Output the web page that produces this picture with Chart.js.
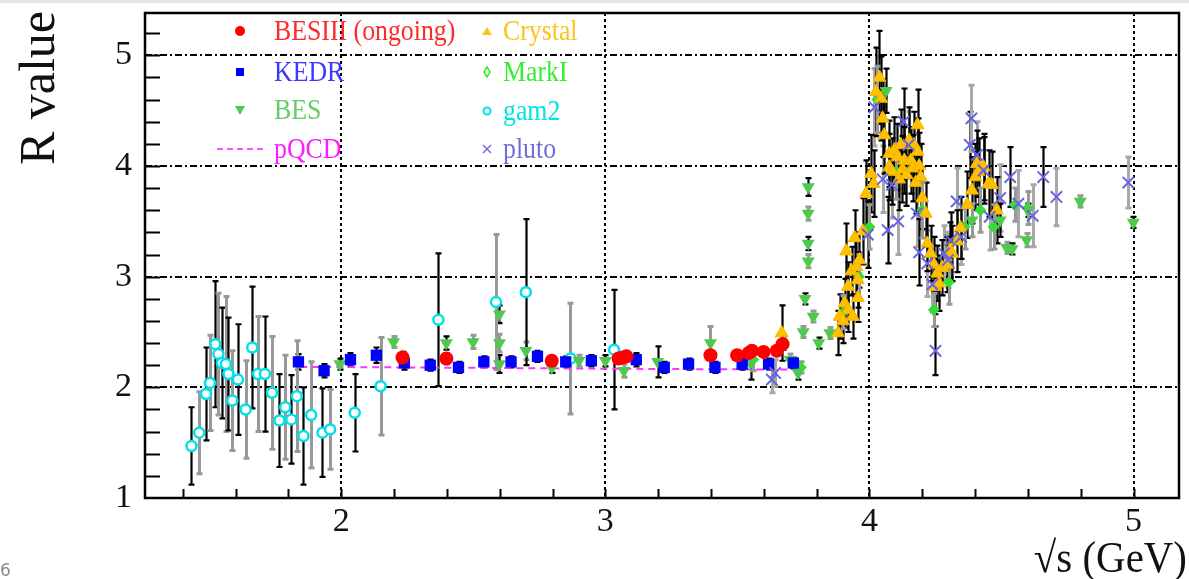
<!DOCTYPE html>
<html>
<head>
<meta charset="utf-8">
<title>R value vs sqrt(s)</title>
<script src="https://cdn.jsdelivr.net/npm/chart.js@4.4.0/dist/chart.umd.min.js"></script>
<style>
  html, body { margin: 0; padding: 0; background: #fff; }
  #wrap { width: 1189px; height: 579px; position: relative; }
</style>
</head>
<body>
<div id="wrap"><canvas id="rChart" width="1189" height="579"></canvas></div>
<script>
// axis ticks
const xTicks = [2, 3, 4, 5];
const yTicks = [1, 2, 3, 4, 5];

// gam2 (open cyan)
const gam2X = [1.433, 1.462, 1.488, 1.503, 1.523, 1.535, 1.548, 1.563, 1.573, 1.588, 1.609, 1.638, 1.663, 1.685, 1.711, 1.738,
  1.766, 1.788, 1.811, 1.832, 1.857, 1.886, 1.929, 1.958, 2.051, 2.149, 2.368, 2.586, 2.699, 2.868, 3.033];
const gam2Y = [1.47, 1.59, 1.94, 2.04, 2.39, 2.30, 2.22, 2.21, 2.12, 1.88, 2.07, 1.80, 2.36, 2.12, 2.12, 1.95,
  1.70, 1.82, 1.71, 1.92, 1.56, 1.75, 1.59, 1.62, 1.77, 2.01, 2.61, 2.77, 2.86, 2.26, 2.34];
const gam2Err = [0.35, 0.37, 0.42, 0.43, 0.57, 0.55, 0.50, 0.61, 0.51, 0.45, 0.50, 0.44, 0.55, 0.52, 0.52, 0.51,
  0.42, 0.47, 0.40, 0.50, 0.44, 0.48, 0.40, 0.36, 0.35, 0.44, 0.60, 0.61, 0.66, 0.50, 0.54];

// KEDR
const kedrX = [1.838, 1.935, 2.035, 2.133, 2.239, 2.337, 2.444, 2.540, 2.643, 2.743, 2.850, 2.947, 3.117, 3.223, 3.315, 3.415, 3.518, 3.618, 3.712];
const kedrY = [2.23, 2.15, 2.25, 2.29, 2.22, 2.20, 2.18, 2.23, 2.23, 2.28, 2.23, 2.24, 2.25, 2.18, 2.21, 2.18, 2.21, 2.21, 2.22];
const kedrErr = [0.07, 0.06, 0.06, 0.07, 0.06, 0.05, 0.05, 0.05, 0.05, 0.05, 0.05, 0.05, 0.06, 0.05, 0.05, 0.05, 0.05, 0.05, 0.05];

// BESIII (ongoing)
const besiiiX = [2.232, 2.398, 2.797, 3.050, 3.065, 3.080, 3.398, 3.499, 3.543, 3.555, 3.599, 3.649, 3.671];
const besiiiY = [2.27, 2.26, 2.24, 2.26, 2.27, 2.28, 2.29, 2.29, 2.31, 2.33, 2.32, 2.33, 2.39];
const besiiiErr = [0.05, 0.05, 0.04, 0.04, 0.04, 0.04, 0.04, 0.04, 0.04, 0.04, 0.04, 0.04, 0.05];

// BES
const besX = [1.995, 2.198, 2.398, 2.499, 2.599, 2.599, 2.599, 2.699, 2.797, 2.900, 3.000, 3.070, 3.198, 3.398, 3.550,
  3.699, 3.730, 3.749, 3.756, 3.768, 3.768, 3.768, 3.768, 3.787, 3.808, 3.850, 4.063, 4.388, 4.495, 4.520, 4.540,
  4.595, 4.600, 4.798, 4.999];
const besY = [2.21, 2.41, 2.40, 2.41, 2.66, 2.40, 2.21, 2.33, 2.18, 2.24, 2.24, 2.15, 2.23, 2.40, 2.22,
  2.25, 2.13, 2.50, 2.80, 3.14, 3.30, 3.57, 3.81, 2.64, 2.40, 2.49, 4.68, 3.51, 3.51, 3.26, 3.25,
  3.33, 3.60, 3.68, 3.49];
const besErr = [0.05, 0.05, 0.06, 0.06, 0.08, 0.08, 0.08, 0.08, 0.05, 0.05, 0.05, 0.06, 0.14, 0.15, 0.15,
  0.05, 0.06, 0.05, 0.05, 0.06, 0.06, 0.06, 0.08, 0.05, 0.05, 0.05, 0.2, 0.15, 0.15, 0.05, 0.05,
  0.06, 0.06, 0.05, 0.05];

// Crystal (Ball)
const crystalX = [3.668, 3.881, 3.887, 3.900, 3.906, 3.912, 3.919, 3.919, 3.932, 3.937, 3.944, 3.950, 3.956, 3.956, 3.962,
  3.975, 3.987, 4.006, 4.016, 4.025, 4.038, 4.044, 4.050, 4.056, 4.075, 4.075, 4.085, 4.094, 4.106, 4.112, 4.119,
  4.125, 4.132, 4.140, 4.150, 4.157, 4.163, 4.169, 4.175, 4.182, 4.182, 4.188, 4.194, 4.200, 4.213, 4.219, 4.232,
  4.244, 4.250, 4.257, 4.263, 4.276, 4.294, 4.305, 4.313, 4.332, 4.345, 4.370, 4.388, 4.401, 4.407, 4.413, 4.432,
  4.451, 4.463, 4.482];
const crystalY = [2.49, 2.49, 2.64, 2.60, 2.76, 3.23, 2.70, 2.91, 3.05, 2.64, 3.35, 3.09, 2.81, 2.97, 3.15,
  3.41, 3.75, 3.93, 3.84, 4.67, 4.80, 4.61, 4.43, 4.28, 3.99, 4.11, 3.95, 4.14, 4.08, 3.88, 4.19,
  3.97, 4.05, 3.92, 4.23, 4.05, 3.98, 4.19, 3.85, 4.37, 4.13, 4.00, 3.90, 3.71, 3.57, 3.30, 3.21,
  3.11, 2.91, 3.03, 2.94, 3.08, 3.11, 3.24, 3.21, 3.32, 3.44, 3.65, 3.78, 3.90, 4.02, 3.95, 3.99,
  3.84, 3.83, 3.60];
const crystalErr = [0.25, 0.2, 0.2, 0.2, 0.22, 0.25, 0.2, 0.22, 0.22, 0.2, 0.25, 0.25, 0.22, 0.25, 0.25,
  0.3, 0.3, 0.35, 0.3, 0.4, 0.42, 0.38, 0.35, 0.35, 0.3, 0.3, 0.3, 0.3, 0.3, 0.28, 0.32,
  0.3, 0.3, 0.28, 0.3, 0.3, 0.3, 0.3, 0.28, 0.32, 0.3, 0.3, 0.3, 0.28, 0.28, 0.25, 0.25,
  0.25, 0.25, 0.25, 0.25, 0.25, 0.25, 0.25, 0.25, 0.28, 0.28, 0.3, 0.3, 0.3, 0.3, 0.3, 0.3,
  0.3, 0.3, 0.3];

// MarkI
const markiX = [3.560, 3.740, 3.900, 3.960, 4.000, 4.030, 4.100, 4.200, 4.244, 4.300, 4.360, 4.420, 4.470, 4.550, 4.600];
const markiY = [2.25, 2.18, 2.68, 3.00, 3.45, 4.60, 3.95, 3.60, 2.70, 2.95, 3.45, 3.60, 3.45, 3.65, 3.62];
const markiErr = [0.1, 0.05, 0.15, 0.2, 0.2, 0.3, 0.25, 0.25, 0.15, 0.2, 0.2, 0.2, 0.2, 0.15, 0.15];

// pluto
const plutoX = [3.630, 3.643, 3.994, 4.019, 4.050, 4.069, 4.085, 4.109, 4.129, 4.148, 4.179, 4.188, 4.219, 4.238, 4.250, 4.282,
  4.297, 4.307, 4.330, 4.347, 4.380, 4.386, 4.407, 4.432, 4.455, 4.495, 4.533, 4.564, 4.618, 4.658, 4.708, 4.980];
const plutoY = [2.07, 2.13, 3.38, 4.53, 3.88, 3.42, 3.83, 3.50, 4.40, 4.19, 3.57, 3.22, 3.12, 2.93, 2.33, 3.21,
  3.15, 3.33, 3.68, 3.36, 4.19, 4.43, 4.10, 3.96, 3.54, 3.71, 3.90, 3.66, 3.55, 3.90, 3.72, 3.85];
const plutoErr = [0.12, 0.12, 0.3, 0.35, 0.3, 0.3, 0.3, 0.3, 0.3, 0.3, 0.3, 0.3, 0.3, 0.25, 0.22, 0.25,
  0.25, 0.25, 0.3, 0.25, 0.3, 0.3, 0.3, 0.3, 0.3, 0.3, 0.27, 0.3, 0.28, 0.27, 0.26, 0.23];

// pQCD
const pqcdX = [1.845, 2.5, 3.0, 3.724];
const pqcdY = [2.185, 2.176, 2.168, 2.16];

const pts = (xs, ys) => xs.map((x, i) => ({ x: x, y: ys[i] }));

const SERIF = "'Liberation Serif', 'Times New Roman', serif";

// vertical error bars, drawn under the markers
const errorBars = {
  id: 'errorBars',
  beforeDatasetsDraw(chart) {
    const ctx = chart.ctx;
    const sx = chart.scales.x, sy = chart.scales.y;
    const a = chart.chartArea;
    ctx.save();
    ctx.beginPath();
    ctx.rect(a.left, a.top, a.right - a.left, a.bottom - a.top);
    ctx.clip();
    chart.data.datasets.forEach(ds => {
      if (!ds.errors) return;
      ds.data.forEach((p, i) => {
        const e = ds.errors[i];
        const col = ds.errorColors[i % ds.errorColors.length];
        const px = Math.round(sx.getPixelForValue(p.x)) + 0.5;
        const top = sy.getPixelForValue(p.y + e);
        const bot = sy.getPixelForValue(p.y - e);
        ctx.strokeStyle = col;
        ctx.lineWidth = col === '#000' ? 2.2 : 3;
        ctx.beginPath();
        ctx.moveTo(px, top);
        ctx.lineTo(px, bot);
        ctx.moveTo(px - 3, top);
        ctx.lineTo(px + 3, top);
        ctx.moveTo(px - 3, bot);
        ctx.lineTo(px + 3, bot);
        ctx.stroke();
      });
    });
    ctx.restore();
  }
};

function drawMarker(ctx, kind, x, y, color) {
  ctx.save();
  ctx.fillStyle = color;
  ctx.strokeStyle = color;
  ctx.lineWidth = 2;
  ctx.beginPath();
  if (kind === 'circle') {
    ctx.arc(x, y, 5, 0, Math.PI * 2);
    ctx.fill();
  } else if (kind === 'square') {
    ctx.fillRect(x - 4, y - 4, 8, 8);
  } else if (kind === 'down') {
    ctx.moveTo(x - 5, y - 4); ctx.lineTo(x + 5, y - 4); ctx.lineTo(x, y + 5); ctx.closePath();
    ctx.fill();
  } else if (kind === 'up') {
    ctx.moveTo(x - 5, y + 4); ctx.lineTo(x + 5, y + 4); ctx.lineTo(x, y - 4); ctx.closePath();
    ctx.fill();
  } else if (kind === 'diamond') {
    ctx.lineWidth = 1.5;
    ctx.moveTo(x, y - 5); ctx.lineTo(x + 3, y); ctx.lineTo(x, y + 5); ctx.lineTo(x - 3, y); ctx.closePath();
    ctx.stroke();
  } else if (kind === 'open') {
    ctx.lineWidth = 2;
    ctx.arc(x, y, 3.5, 0, Math.PI * 2);
    ctx.stroke();
  } else if (kind === 'cross') {
    ctx.lineWidth = 1.5;
    ctx.moveTo(x - 4, y - 4); ctx.lineTo(x + 4, y + 4);
    ctx.moveTo(x + 4, y - 4); ctx.lineTo(x - 4, y + 4);
    ctx.stroke();
  } else if (kind === 'dash') {
    ctx.setLineDash([6, 4]);
    ctx.lineWidth = 1.5;
    ctx.moveTo(x - 23, y); ctx.lineTo(x + 25, y);
    ctx.stroke();
  }
  ctx.restore();
}

// frame, inner ticks, legend and titles
const decorations = {
  id: 'decorations',
  afterDraw(chart) {
    const ctx = chart.ctx;
    const sx = chart.scales.x, sy = chart.scales.y;
    const a = chart.chartArea;
    ctx.save();

    // faint page edge at the very top
    ctx.fillStyle = '#e4e4e4';
    ctx.fillRect(0, 0, 1189, 3);

    // minor / major ticks inside the frame
    ctx.strokeStyle = '#000';
    ctx.lineWidth = 2;
    ctx.beginPath();
    for (let v = 1.2; v < 5.39; v += 0.2) {
      const py = Math.round(sy.getPixelForValue(v)) + 0.5;
      ctx.moveTo(a.left, py);
      ctx.lineTo(a.left + 15, py);
    }
    for (let v = 1.4; v < 5.17; v += 0.2) {
      const px = Math.round(sx.getPixelForValue(v)) + 0.5;
      ctx.moveTo(px, a.bottom);
      ctx.lineTo(px, a.bottom - 9);
    }
    ctx.stroke();

    // frame
    ctx.lineWidth = 2.5;
    ctx.strokeRect(a.left, a.top, a.right - a.left, a.bottom - a.top);

    // legend
    chart.data.datasets.forEach(ds => {
      const L = ds.legend;
      if (!L) return;
      drawMarker(ctx, L.marker, L.mx, L.y, ds.legendMarkerColor || L.color);
      ctx.save();
      ctx.font = '30px ' + SERIF;
      ctx.fillStyle = L.color;
      ctx.textBaseline = 'alphabetic';
      ctx.translate(L.tx, L.y + 9);
      ctx.scale(0.86, 1);
      ctx.fillText(ds.label, 0, 0);
      ctx.restore();
    });

    // y title
    ctx.save();
    ctx.fillStyle = '#111';
    ctx.font = '50px ' + SERIF;
    ctx.textAlign = 'center';
    ctx.translate(54, 88);
    ctx.rotate(-Math.PI / 2);
    ctx.fillText('R value', 0, 0);
    ctx.restore();

    // x title
    ctx.save();
    ctx.fillStyle = '#111';
    ctx.font = '44px ' + SERIF;
    ctx.textAlign = 'right';
    ctx.translate(1187, 572);
    ctx.scale(0.93, 1);
    ctx.fillText('\u221As (GeV)', 0, 0);
    ctx.restore();

    // page number fragment
    ctx.fillStyle = '#8a8a8a';
    ctx.font = '17px ' + "'DejaVu Sans', sans-serif";
    ctx.fillText('6', 0, 576);

    ctx.restore();
  }
};

const datasets = [
  {
    label: 'BESIII (ongoing)', data: pts(besiiiX, besiiiY), errors: besiiiErr, errorColors: ['#000'],
    pointStyle: 'circle', pointRadius: 7, backgroundColor: '#ff0000', borderColor: '#ff0000', borderWidth: 0,
    legend: { marker: 'circle', mx: 240, tx: 274, y: 31, color: '#ff2a2a' }, legendMarkerColor: '#ff0000'
  },
  {
    label: 'pluto', data: pts(plutoX, plutoY), errors: plutoErr, errorColors: ['#a8a8a8', '#a8a8a8', '#000'],
    pointStyle: 'crossRot', pointRadius: 8, borderColor: '#6666e0', borderWidth: 2,
    legend: { marker: 'cross', mx: 487, tx: 503, y: 149, color: '#6f6fd8' }
  },
  {
    label: 'Crystal', data: pts(crystalX, crystalY), errors: crystalErr, errorColors: ['#000'],
    pointStyle: 'triangle', pointRadius: 7.5, backgroundColor: '#ffc000', borderColor: '#f2b600', borderWidth: 1,
    legend: { marker: 'up', mx: 487, tx: 503, y: 31, color: '#ffc21a' }
  },
  {
    label: 'KEDR', data: pts(kedrX, kedrY), errors: kedrErr, errorColors: ['#000'],
    pointStyle: 'rect', pointRadius: 8, backgroundColor: '#0000ff', borderColor: '#0000ff', borderWidth: 0,
    legend: { marker: 'square', mx: 240, tx: 274, y: 72, color: '#3a3aff' }, legendMarkerColor: '#0000ff'
  },
  {
    label: 'BES', data: pts(besX, besY), errors: besErr, errorColors: ['#000', '#999'],
    pointStyle: 'triangle', rotation: 180, pointRadius: 7.5, backgroundColor: '#4fc84f', borderColor: '#4fc84f', borderWidth: 0,
    legend: { marker: 'down', mx: 240, tx: 274, y: 110, color: '#66cc66' }, legendMarkerColor: '#4fc84f'
  },
  {
    label: 'MarkI', data: pts(markiX, markiY), errors: markiErr, errorColors: ['#999'],
    pointStyle: 'rectRot', pointRadius: 5.5, backgroundColor: '#33dd33', borderColor: '#33dd33', borderWidth: 1,
    legend: { marker: 'diamond', mx: 487, tx: 503, y: 72, color: '#33ee33' }
  },
  {
    label: 'gam2', data: pts(gam2X, gam2Y), errors: gam2Err, errorColors: ['#000', '#999'],
    pointStyle: 'circle', pointRadius: 5, backgroundColor: '#ffffff', borderColor: '#00e0e8', borderWidth: 2.5,
    legend: { marker: 'open', mx: 487, tx: 503, y: 111, color: '#00e4e4' }
  },
  {
    label: 'pQCD', type: 'line', data: pts(pqcdX, pqcdY), showLine: true, borderColor: '#ff33ff', borderWidth: 2,
    borderDash: [7, 5], pointRadius: 0, fill: false, tension: 0,
    legend: { marker: 'dash', mx: 240, tx: 274, y: 149, color: '#ff1aff' }
  }
];

const config = {
  type: 'scatter',
  data: { datasets: datasets },
  options: {
    responsive: false,
    animation: false,
    devicePixelRatio: 1,
    layout: { padding: { top: 13, right: -1, left: 0, bottom: 0 } },
    plugins: { legend: { display: false }, tooltip: { enabled: false } },
    scales: {
      x: {
        type: 'linear', min: 1.257, max: 5.172,
        afterFit: s => { s.height = 81; s.paddingLeft = 0; s.paddingRight = 0; },
        afterBuildTicks: s => { s.ticks = xTicks.map(v => ({ value: v })); },
        ticks: { color: '#111', font: { family: SERIF, size: 34 }, padding: 4, maxRotation: 0 },
        grid: { color: '#000', lineWidth: 2, drawTicks: false },
        border: { display: false, dash: [3, 3] }
      },
      y: {
        type: 'linear', min: 1, max: 5.382,
        afterFit: s => { s.width = 145; s.paddingTop = 0; s.paddingBottom = 0; },
        afterBuildTicks: s => { s.ticks = yTicks.map(v => ({ value: v })); },
        ticks: { color: '#111', font: { family: SERIF, size: 34 }, padding: 13 },
        grid: {
          color: c => (c.tick && c.tick.value === 1) ? 'rgba(0,0,0,0)' : '#000',
          lineWidth: 2, drawTicks: false
        },
        border: { display: false, dash: [7, 3, 2, 3] }
      }
    }
  },
  plugins: [errorBars, decorations]
};

new Chart(document.getElementById('rChart').getContext('2d'), config);
</script>
</body>
</html>
